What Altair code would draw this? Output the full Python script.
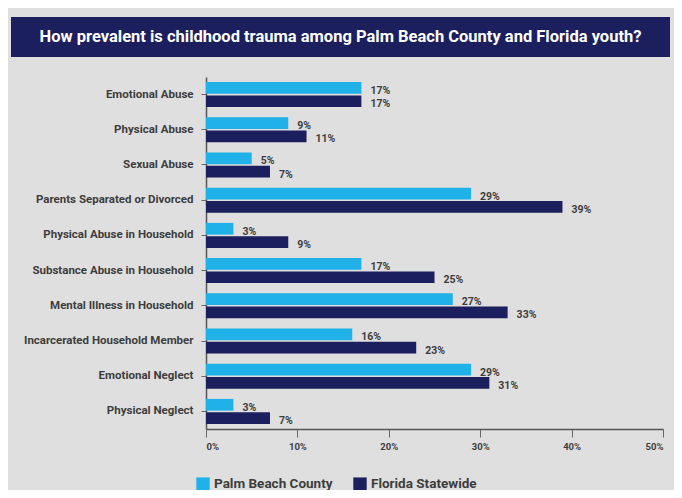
import altair as alt
import pandas as pd

title_text = "How prevalent is childhood trauma among Palm Beach County and Florida youth?"
categories = [
    "Emotional Abuse",
    "Physical Abuse",
    "Sexual Abuse",
    "Parents Separated or Divorced",
    "Physical Abuse in Household",
    "Substance Abuse in Household",
    "Mental Illness in Household",
    "Incarcerated Household Member",
    "Emotional Neglect",
    "Physical Neglect",
]
series_names = ["Palm Beach County", "Florida Statewide"]
palm_beach = [17, 9, 5, 29, 3, 17, 27, 16, 29, 3]
florida = [17, 11, 7, 39, 9, 25, 33, 23, 31, 7]
x_ticks = [0, 10, 20, 30, 40, 50]

rows = []
for c, a, b in zip(categories, palm_beach, florida):
    rows.append({"category": c, "series": series_names[0], "value": a, "label": f"{a}%"})
    rows.append({"category": c, "series": series_names[1], "value": b, "label": f"{b}%"})
df = pd.DataFrame(rows)

FONT = "Roboto"
NAVY = "#1c1f5e"
LIGHT = "#1fb1e8"
GREY = "#3d3d3d"

y_enc = alt.Y(
    "category:N",
    sort=categories,
    title=None,
    scale=alt.Scale(paddingInner=0.29, paddingOuter=0.145),
    axis=alt.Axis(
        labelFont=FONT, labelFontSize=11.5, labelFontWeight="bold", labelColor=GREY,
        domainColor="#555555", domainWidth=1.5, tickColor="#666666", tickSize=5,
        labelPadding=8, labelLimit=300,
    ),
)
yoff_enc = alt.YOffset("series:N", sort=series_names, scale=alt.Scale(paddingInner=0.12, paddingOuter=0))
x_enc = alt.X(
    "value:Q",
    title=None,
    scale=alt.Scale(domain=[0, 50], nice=False),
    axis=alt.Axis(
        values=x_ticks, labelExpr="datum.value + '%'", grid=False,
        labelFont=FONT, labelFontSize=9.5, labelFontWeight="bold", labelColor=GREY,
        domainColor="#555555", domainWidth=1.5, tickColor="#666666", tickSize=8,
        labelPadding=4,
    ),
)

bars = alt.Chart(df).mark_bar().encode(
    y=y_enc,
    yOffset=yoff_enc,
    x=x_enc,
    color=alt.Color(
        "series:N",
        sort=series_names,
        scale=alt.Scale(domain=series_names, range=[LIGHT, NAVY]),
        legend=alt.Legend(
            title=None, orient="none", direction="horizontal",
            legendX=-10, legendY=400, padding=0,
            symbolType="square", symbolSize=180, symbolStrokeWidth=0,
            labelFont=FONT, labelFontSize=13.5, labelFontWeight="bold", labelColor=GREY,
            labelOffset=4, columnPadding=20,
        ),
    ),
)

labels = alt.Chart(df).mark_text(
    align="left", baseline="middle", dx=9, dy=3,
    font=FONT, fontSize=10.5, fontWeight="bold", color=GREY,
).encode(
    y=alt.Y("category:N", sort=categories),
    yOffset=alt.YOffset("series:N", sort=series_names),
    x=alt.X("value:Q"),
    text="label:N",
)

title_df = pd.DataFrame({"t": [title_text]})
title_bar = alt.Chart(title_df).mark_rect(color=NAVY).encode(
    x=alt.value(-195), x2=alt.value(464), y=alt.value(-60), y2=alt.value(-20)
)
title_txt = alt.Chart(title_df).mark_text(
    font=FONT, fontSize=16.5, fontWeight="bold", color="white", align="center", baseline="middle"
).encode(x=alt.value(134.5), y=alt.value(-40), text="t:N")

chart = alt.layer(bars, labels, title_bar, title_txt).properties(
    width=457, height=352,
    background="#dfdfdf",
    autosize=alt.AutoSizeParams(type="none"),
    padding={"left": 198, "top": 69, "right": 11, "bottom": 61},
).configure_view(stroke=None)

chart.save("out.html", embed_options={"renderer": "svg", "actions": False})
